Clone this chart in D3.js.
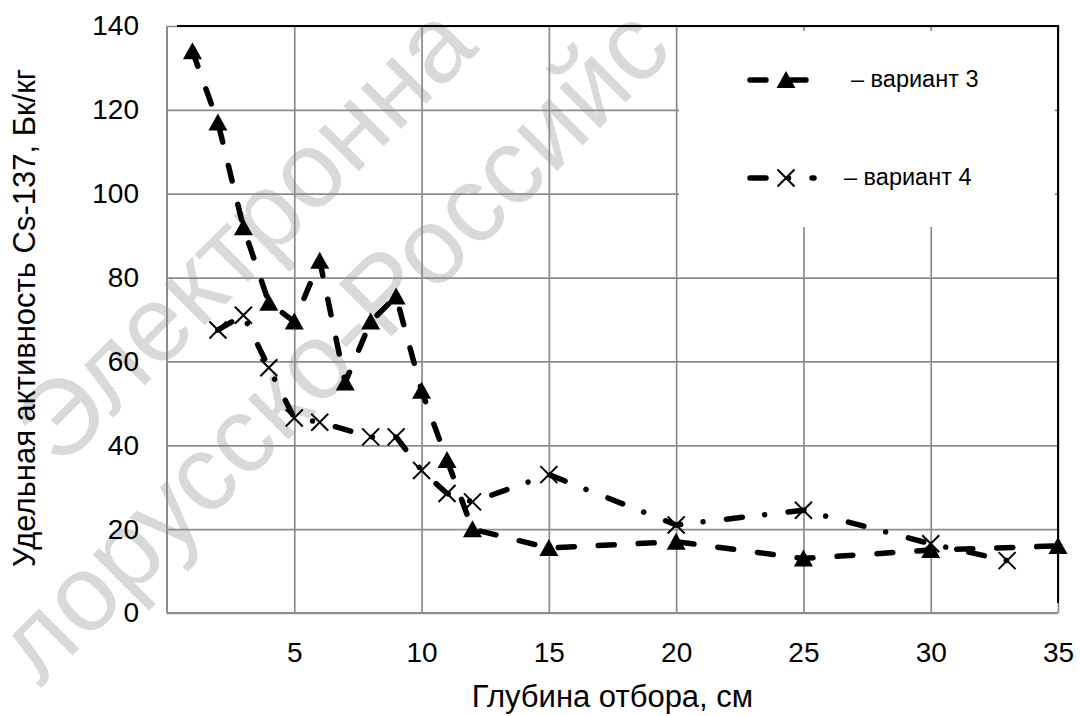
<!DOCTYPE html>
<html>
<head>
<meta charset="utf-8">
<script src="https://cdn.jsdelivr.net/npm/d3@7"></script>
<style>
	html, body { margin: 0; padding: 0; background: #fff; }
	svg text { font-family: "Liberation Sans", Arial, sans-serif; fill: #000; }
</style>
</head>
<body>
<div id="chart"></div>
<script>
//sampling depth (cm) and specific activity of Cs-137 (Bq/kg)
const depth3 = [1, 2, 3, 4, 5, 6, 7, 8, 9, 10, 11, 12, 15, 20, 25, 30, 35]
const activity3 = [134, 117, 92, 74, 69.5, 84, 55, 69.5, 75.5, 53, 36.5, 20, 15.5, 17, 13, 15, 16]
const depth4 = [2, 3, 4, 5, 6, 8, 9, 10, 11, 12, 15, 20, 25, 30, 33]
const activity4 = [67.5, 71, 58.5, 46.5, 45.5, 42, 42, 34, 28.5, 26.5, 33, 21, 24.5, 16.5, 12.5]

const xTicks = [5, 10, 15, 20, 25, 30, 35]
const yTicks = [0, 20, 40, 60, 80, 100, 120, 140]
const seriesNames = ['– вариант 3', '– вариант 4']
const xTitle = 'Глубина отбора, см'
const yTitle = 'Удельная активность Cs-137, Бк/кг'
//only the visible part of the watermark
const watermark = ['Электронна', 'лорусско-Российс']

const w = 1080, h = 716
const plot = {left: 167, right: 1058, top: 26, bottom: 613}

let x = d3.scaleLinear().domain([0, 35]).range([plot.left, plot.right])
let y = d3.scaleLinear().domain([0, 140]).range([plot.bottom, plot.top])

let svg = d3.select('#chart').append('svg')
	.attr('width', w)
	.attr('height', h)

//watermark in the back
let wm = svg.append('g').attr('class', 'watermark')
wm.selectAll('text')
	.data(watermark)
	.join('text')
	.attr('transform', (d, i) => i == 0 ? 'translate(60,470) rotate(-45)' : 'translate(40,688) rotate(-45)')
	.style('font-size', '108px')
	.style('fill', '#d9d9d9')
	.text(d => d)

//grid
let gridColor = '#8c8c8c'
let yAxis = svg.append('g')
	.attr('transform', `translate(${plot.left},0)`)
	.call(d3.axisLeft(y).tickValues(yTicks).tickSize(-(plot.right - plot.left)).tickPadding(28))
yAxis.select('.domain').remove()
yAxis.selectAll('line').attr('stroke', gridColor).attr('stroke-width', 1.7)
yAxis.selectAll('text').style('font-size', '28px').style('font-family', '"Liberation Sans", Arial, sans-serif')

let xAxis = svg.append('g')
	.attr('transform', `translate(0,${plot.bottom})`)
	.call(d3.axisBottom(x).tickValues(xTicks).tickSize(-(plot.bottom - plot.top)).tickPadding(29))
xAxis.select('.domain').remove()
xAxis.selectAll('line').attr('stroke', gridColor).attr('stroke-width', 1.7)
xAxis.selectAll('text').style('font-size', '28px').style('font-family', '"Liberation Sans", Arial, sans-serif')

//plot border: left and bottom gray, top and right black
let border = svg.append('g')
border.append('line').attr('x1', plot.left).attr('x2', plot.left).attr('y1', plot.top).attr('y2', plot.bottom)
	.attr('stroke', gridColor).attr('stroke-width', 2)
border.append('line').attr('x1', plot.left).attr('x2', plot.right).attr('y1', plot.bottom).attr('y2', plot.bottom)
	.attr('stroke', gridColor).attr('stroke-width', 2)
border.append('line').attr('x1', plot.left + 10).attr('x2', plot.right + 1).attr('y1', plot.top).attr('y2', plot.top)
	.attr('stroke', '#000').attr('stroke-width', 2)
border.append('line').attr('x1', plot.right).attr('x2', plot.right).attr('y1', plot.top).attr('y2', plot.bottom - 10)
	.attr('stroke', '#000').attr('stroke-width', 2)

//axis titles
svg.append('text')
	.attr('x', (plot.left + plot.right) / 2)
	.attr('y', 707)
	.attr('text-anchor', 'middle')
	.style('font-size', '31px')
	.text(xTitle)

svg.append('text')
	.attr('transform', `translate(35,318) rotate(-90)`)
	.attr('text-anchor', 'middle')
	.style('font-size', '31px')
	.text(yTitle)

//series
let data3 = depth3.map((d, i) => ({depth: d, value: activity3[i]}))
let data4 = depth4.map((d, i) => ({depth: d, value: activity4[i]}))

let line = d3.line().x(d => x(d.depth)).y(d => y(d.value))

const dash3 = '16,24'
const dash4 = '16,22.5,0.01,23.5'

let triPath = 'M0,-9L9.5,8L-9.5,8Z'
let crossPath = 'M-8.5,-8.5L8.5,8.5M-8.5,8.5L8.5,-8.5'

svg.append('path')
	.datum(data4)
	.attr('d', line)
	.attr('fill', 'none')
	.attr('stroke', '#000')
	.attr('stroke-width', 5.5)
	.attr('stroke-linecap', 'round')
	.attr('stroke-linejoin', 'round')
	.attr('stroke-dasharray', dash4)

svg.append('g').selectAll('path')
	.data(data4)
	.join('path')
	.attr('transform', d => `translate(${x(d.depth)},${y(d.value)})`)
	.attr('d', crossPath)
	.attr('stroke', '#000')
	.attr('stroke-width', 2)

svg.append('path')
	.datum(data3)
	.attr('d', line)
	.attr('fill', 'none')
	.attr('stroke', '#000')
	.attr('stroke-width', 5.5)
	.attr('stroke-linecap', 'round')
	.attr('stroke-linejoin', 'round')
	.attr('stroke-dasharray', dash3)

svg.append('g').selectAll('path')
	.data(data3)
	.join('path')
	.attr('transform', d => `translate(${x(d.depth)},${y(d.value)})`)
	.attr('d', triPath)
	.attr('fill', '#000')

//legend box covers the grid
let legend = svg.append('g')
legend.append('rect')
	.attr('x', 679).attr('y', 31)
	.attr('width', 376).attr('height', 196)
	.attr('fill', '#fff')

let legendItems = [
	{name: seriesNames[0], y: 80, textX: 851, dash: dash3, marker: triPath, fill: '#000', len: 62},
	{name: seriesNames[1], y: 178, textX: 844, dash: dash4, marker: crossPath, fill: 'none', len: 64}
]

let item = legend.selectAll('.legendItem')
	.data(legendItems)
	.join('g')
	.attr('class', 'legendItem')
	.attr('transform', d => `translate(0,${d.y})`)

item.append('line')
	.attr('x1', 750).attr('x2', d => 750 + d.len)
	.attr('stroke', '#000')
	.attr('stroke-width', 5.5)
	.attr('stroke-linecap', 'round')
	.attr('stroke-dasharray', d => d.dash)

item.append('path')
	.attr('transform', 'translate(786,0)')
	.attr('d', d => d.marker)
	.attr('fill', d => d.fill)
	.attr('stroke', d => d.fill == 'none' ? '#000' : null)
	.attr('stroke-width', 2)

item.append('text')
	.attr('x', d => d.textX)
	.attr('y', 7)
	.style('font-size', '23.5px')
	.text(d => d.name)
</script>
</body>
</html>
